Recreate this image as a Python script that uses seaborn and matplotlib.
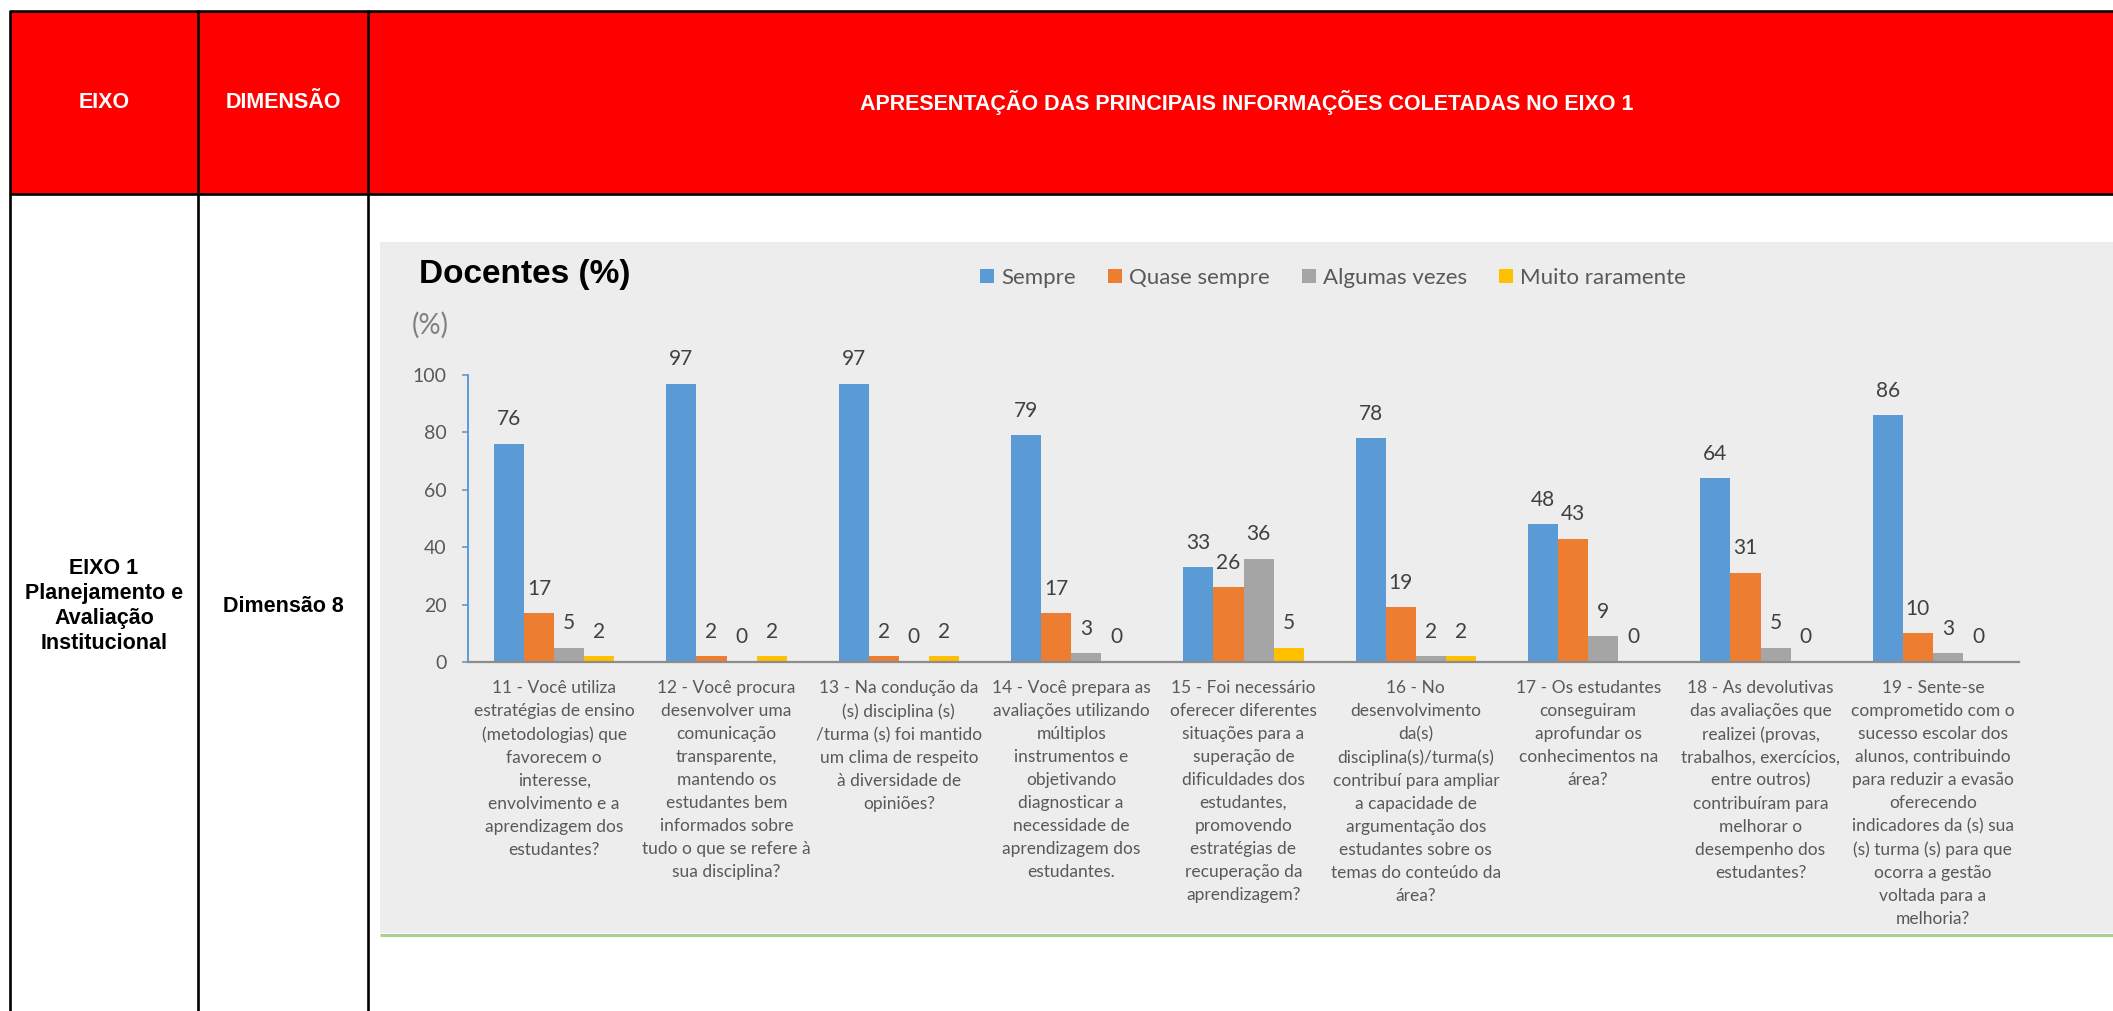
import matplotlib
matplotlib.use("Agg")
import matplotlib.pyplot as plt
import seaborn as sns
import pandas as pd
from matplotlib.patches import Rectangle
from matplotlib.lines import Line2D

# ---------------- data ----------------
questoes = [
    "11 - Você utiliza\nestratégias de ensino\n(metodologias) que\nfavorecem o\ninteresse,\nenvolvimento e a\naprendizagem dos\nestudantes?",
    "12 - Você procura\ndesenvolver uma\ncomunicação\ntransparente,\nmantendo os\nestudantes bem\ninformados sobre\ntudo o que se refere à\nsua disciplina?",
    "13 - Na condução da\n(s) disciplina (s)\n/turma (s) foi mantido\num clima de respeito\nà diversidade de\nopiniões?",
    "14 - Você prepara as\navaliações utilizando\nmúltiplos\ninstrumentos e\nobjetivando\ndiagnosticar a\nnecessidade de\naprendizagem dos\nestudantes.",
    "15 - Foi necessário\noferecer diferentes\nsituações para a\nsuperação de\ndificuldades dos\nestudantes,\npromovendo\nestratégias de\nrecuperação da\naprendizagem?",
    "16 - No\ndesenvolvimento\nda(s)\ndisciplina(s)/turma(s)\ncontribuí para ampliar\na capacidade de\nargumentação dos\nestudantes sobre os\ntemas do conteúdo da\nárea?",
    "17 - Os estudantes\nconseguiram\naprofundar os\nconhecimentos na\nárea?",
    "18 - As devolutivas\ndas avaliações que\nrealizei (provas,\ntrabalhos, exercícios,\nentre outros)\ncontribuíram para\nmelhorar o\ndesempenho dos\nestudantes?",
    "19 - Sente-se\ncomprometido com o\nsucesso escolar dos\nalunos, contribuindo\npara reduzir a evasão\noferecendo\nindicadores da (s) sua\n(s) turma (s) para que\nocorra a gestão\nvoltada para a\nmelhoria?",
]
respostas = ["Sempre", "Quase sempre", "Algumas vezes", "Muito raramente"]
sempre = [76, 97, 97, 79, 33, 78, 48, 64, 86]
quase_sempre = [17, 2, 2, 17, 26, 19, 43, 31, 10]
algumas_vezes = [5, 0, 0, 3, 36, 2, 9, 5, 3]
muito_raramente = [2, 2, 2, 0, 5, 2, 0, 0, 0]
yticks = [0, 20, 40, 60, 80, 100]
cores = ["#5B9BD5", "#ED7D31", "#A5A5A5", "#FFC000"]

titulo_grafico = "Docentes (%)"
cab_eixo = "EIXO"
cab_dim = "DIMENSÃO"
cab_apres = "APRESENTAÇÃO DAS PRINCIPAIS INFORMAÇÕES COLETADAS NO EIXO 1"
txt_eixo = "EIXO 1\nPlanejamento e\nAvaliação\nInstitucional"
txt_dim = "Dimensão 8"

# ---------------- figure ----------------
plt.rcParams['font.family'] = ['Lato', 'DejaVu Sans']
W, H = 2113, 1011
fig = plt.figure(figsize=(W / 100, H / 100), dpi=100)
fig.patch.set_facecolor('white')


def fx(x):
    return x / W


def fy(y):
    return 1 - y / H


def rect(x0, y0, x1, y1, color, z=-10):
    fig.add_artist(Rectangle((fx(x0), fy(y1)), fx(x1) - fx(x0), fy(y0) - fy(y1),
                             transform=fig.transFigure, facecolor=color,
                             edgecolor='none', zorder=z))


def line(x0, y0, x1, y1, color, lw, z=-5):
    fig.add_artist(Line2D([fx(x0), fx(x1)], [fy(y0), fy(y1)], transform=fig.transFigure,
                          color=color, lw=lw, zorder=z, solid_capstyle='butt'))


# table background
rect(10, 11, 2113, 194, '#FF0000')
rect(380, 242, 2113, 933, '#EDEDED')
line(380, 934.5, 2113, 934.5, '#A9D18E', 2.2)
# table grid
line(10, 11, 2113, 11, 'black', 1.9)
line(10, 194, 2113, 194, 'black', 1.9)
for xv in (10, 198, 368):
    line(xv, 10, xv, 1011, 'black', 1.9)

tfont = dict(family=['Liberation Sans', 'DejaVu Sans'], fontweight='bold', fontsize=15.5)
fig.text(fx(104), fy(102.5), cab_eixo, ha='center', va='center', color='white', **tfont)
fig.text(fx(283), fy(102.5), cab_dim, ha='center', va='center', color='white', **tfont)
fig.text(fx(1247), fy(102.5), cab_apres, ha='center', va='center', color='white', **tfont)
fig.text(fx(104), fy(606), txt_eixo, ha='center', va='center', color='black',
         linespacing=1.24, **tfont)
fig.text(fx(283), fy(606), txt_dim, ha='center', va='center', color='black', **tfont)

# chart title and unit
fig.text(fx(419), fy(283), titulo_grafico, ha='left', va='baseline', color='black',
         family=['Liberation Sans', 'DejaVu Sans'], fontweight='bold', fontsize=24)
fig.text(fx(412), fy(334), "(%)", ha='left', va='baseline', color='#7F7F7F',
         family=['Lato', 'DejaVu Sans'], fontsize=20)

# ---------------- chart ----------------
df = pd.DataFrame({
    'questao': questoes * 4,
    'resposta': sum([[r] * len(questoes) for r in respostas], []),
    'valor': sempre + quase_sempre + algumas_vezes + muito_raramente,
})

ax = fig.add_axes([fx(468), fy(662), fx(2019) - fx(468), fy(375) - fy(662)])
ax.set_facecolor('none')
sns.barplot(data=df, x='questao', y='valor', hue='resposta', hue_order=respostas,
            order=questoes, palette=cores, width=0.7, saturation=1, errorbar=None,
            ax=ax, legend=True)

ax.set_xlim(-0.5, len(questoes) - 0.5)
ax.set_ylim(0, 100)
ax.set_yticks(yticks)
ax.set_xlabel('')
ax.set_ylabel('')
for s in ('top', 'right'):
    ax.spines[s].set_visible(False)
ax.spines['left'].set_color('#5B9BD5')
ax.spines['left'].set_linewidth(1.4)
ax.spines['bottom'].set_color('#8C8C8C')
ax.spines['bottom'].set_linewidth(1.6)
ax.spines['bottom'].set_zorder(5)

ax.tick_params(axis='y', length=4.5, width=1.2, color='#5B9BD5', pad=11,
               labelsize=14, labelcolor='#595959')
ax.tick_params(axis='x', length=0, pad=13, labelsize=12.5, labelcolor='#595959')
for t in ax.get_xticklabels():
    t.set_linespacing(1.535)

for cont in ax.containers:
    ax.bar_label(cont, fmt='%d', padding=10.5, fontsize=15, color='#404040')

handles, labels = ax.get_legend_handles_labels()
ax.get_legend().remove()
fig.legend(handles, labels, loc='center left', bbox_to_anchor=(fx(980), fy(278)),
           ncol=4, frameon=False, borderpad=0, borderaxespad=0,
           handlelength=0.63, handleheight=0.63, handletextpad=0.32,
           columnspacing=1.44, prop={'family': ['Lato', 'DejaVu Sans'], 'size': 16},
           labelcolor='#595959')

fig.savefig('out.png', dpi=100, facecolor='white')
